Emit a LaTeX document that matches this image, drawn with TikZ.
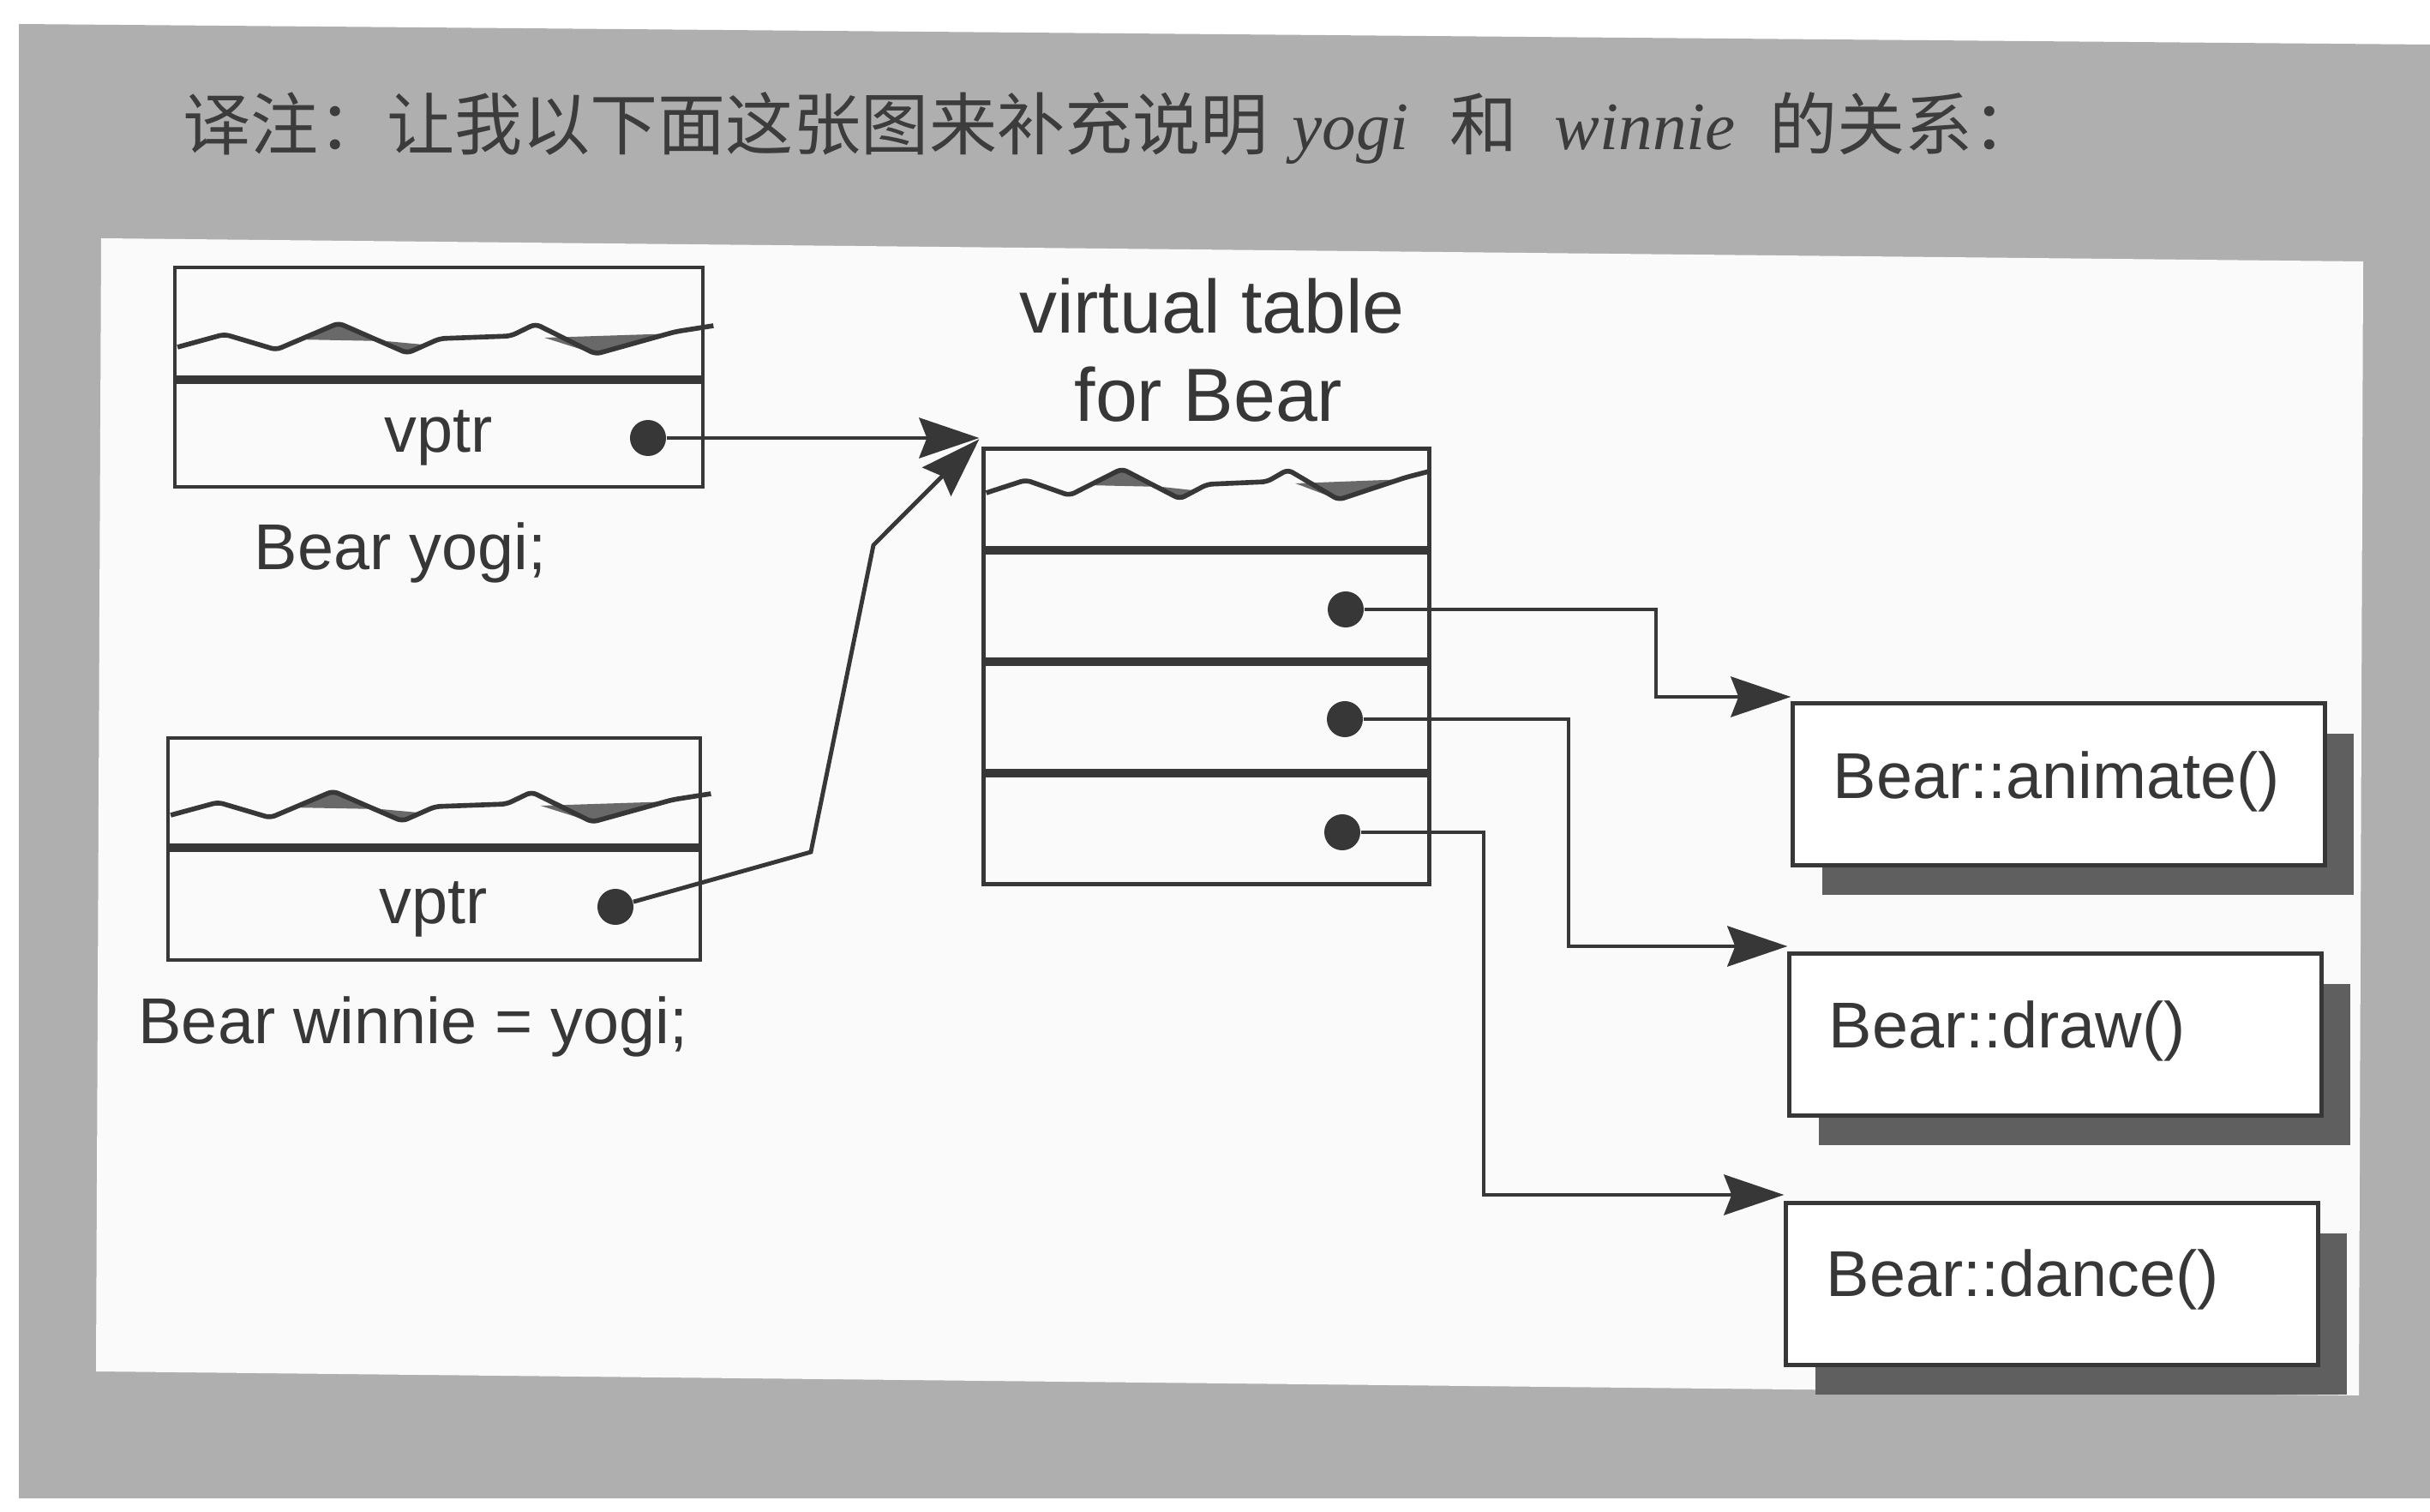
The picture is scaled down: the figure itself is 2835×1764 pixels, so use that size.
\documentclass[tikz,border=0pt]{standalone}
\usepackage{fontspec}
\setmainfont{Liberation Sans}
\newfontfamily\cjk{Noto Sans CJK SC}
\newfontfamily\tnr{Liberation Serif}
\usetikzlibrary{arrows.meta,calc,shadows}
\definecolor{bggray}{RGB}{175,175,175}
\definecolor{panel}{RGB}{250,250,250}
\definecolor{ink}{RGB}{55,55,55}
\definecolor{titlegray}{RGB}{60,60,60}
\definecolor{shade}{RGB}{95,95,95}
\definecolor{wavefill}{RGB}{105,105,105}
\newcommand\drawwave[4]{%
  \fill[wavefill] ({#1+0.23*#2},{#3-2}) -- ({#1+0.31*#2},{#3-21}) -- ({#1+0.40*#2},{#3}) -- cycle;
  \fill[wavefill] ({#1+0.40*#2},{#3}) -- ({#1+0.44*#2},{#3+14}) -- ({#1+0.47*#2},{#3+4}) -- cycle;
  \fill[wavefill] ({#1+0.70*#2},{#3-4}) -- ({#1+0.797*#2},{#3+15}) -- ({#1+0.95*#2},{#3-9}) -- cycle;
  \draw[waveline] ({#1+0.005*#2},{#3+7}) -- ({#1+0.094*#2},{#3-8}) -- ({#1+0.192*#2},{#3+10}) -- ({#1+0.31*#2},{#3-21}) -- ({#1+0.44*#2},{#3+14}) -- ({#1+0.502*#2},{#3-3}) -- ({#1+0.636*#2},{#3-6}) -- ({#1+0.683*#2},{#3-20}) -- ({#1+0.797*#2},{#3+15}) -- ({#1+0.948*#2},{#3-11}) -- ({#1+#4*#2},{#3-18});
}
\begin{document}
\begin{tikzpicture}[x=0.01cm,y=-0.01cm,
  objbox/.style={draw=ink, line width=1.4pt},
  divider/.style={draw=ink, line width=2.6pt},
  waveline/.style={draw=ink, line width=1.6pt, line join=round, rounded corners=0.06cm},
  ptr/.style={circle, fill=ink, inner sep=0pt, minimum size=0.42cm},
  conn/.style={draw=ink, line width=1.4pt, -{Stealth[length=0.7cm,width=0.47cm,inset=0.09cm]}},
  fbox/.style={draw=ink, fill=white, line width=1.4pt, minimum width=6.2cm, minimum height=1.88cm, inner sep=0pt,
     drop shadow={shadow xshift=0.34cm, shadow yshift=-0.35cm, fill=shade, opacity=1}},
  lbl/.style={text=ink, font=\fontsize{21.5pt}{26pt}\selectfont, inner sep=0pt},
  ttl/.style={text=ink, font=\fontsize{25pt}{30pt}\selectfont, inner sep=0pt},
 ]
\useasboundingbox (0,0) rectangle (2835,1764);
\fill[white] (0,0) rectangle (2835,1764);
\fill[bggray] (22,28) -- (2835,52) -- (2835,1748) -- (22,1748) -- cycle;
\fill[panel] (118,278) -- (2757,305) -- (2752,1628) -- (112,1600) -- cycle;

% title
\node[anchor=base west, text=titlegray, inner sep=0pt, font=\fontsize{22.5pt}{27pt}\selectfont] (title) at (213,175)
 {{\cjk 译注：让我以下面这张图来补充说明}\hspace{0.35em}{\tnr\itshape yogi}\hspace{0.6em}{\cjk 和}\hspace{0.55em}{\tnr\itshape winnie}\hspace{0.5em}{\cjk 的关系：}};

% yogi object
\draw[objbox] (204,312) rectangle (820,568);
\draw[divider] (204,443) -- (820,443);
\drawwave{204}{616}{398}{1.02}
\node[lbl, anchor=base] (yv) at (512,528) {vptr};
\node[ptr] (yd) at (756,511) {};
\node[lbl, anchor=base] (yn) at (467,665) {Bear yogi;};

% winnie object
\draw[objbox] (196,861) rectangle (817,1120);
\draw[divider] (196,989) -- (817,989);
\drawwave{196}{621}{944}{1.02}
\node[lbl, anchor=base] (wv) at (506,1077) {vptr};
\node[ptr] (wd) at (718,1058) {};
\node[lbl, anchor=base] (wn) at (482,1217) {Bear winnie = yogi;};

% virtual table
\node[ttl, anchor=base] (vtt1) at (1414,389) {virtual table};
\node[ttl, anchor=base] (vtt2) at (1410,492) {for Bear};
\node[draw=ink, line width=1.4pt, minimum width=5.19cm, minimum height=5.07cm, inner sep=0pt] (vt) at (1407.5,777.5) {};
\draw[divider] (1148,642) -- (1667,642);
\draw[divider] (1148,772) -- (1667,772);
\draw[divider] (1148,902) -- (1667,902);
\drawwave{1148}{519}{568}{1.0}
\node[ptr] (vd1) at (1570,711) {};
\node[ptr] (vd2) at (1569,839) {};
\node[ptr] (vd3) at (1566,971) {};

% arrows to vtable
\coordinate (vtin) at ($(vt.north west)+(-3,-9)$);
\draw[conn] (yd) -- (vtin |- yd);
\coordinate (wb1) at (946,994);
\coordinate (wb2) at (1019,636);
\draw[conn] (wd) -- (wb1) -- (wb2) -- (vtin);

% function boxes
\node[fbox] (fa) at (2402,915) {};
\node[fbox] (fd) at (2398,1207) {};
\node[fbox] (fc) at (2394,1498) {};
\node[lbl, anchor=base west] (fat) at (2138,932) {Bear::animate()};
\node[lbl, anchor=base west] (fdt) at (2133,1222) {Bear::draw()};
\node[lbl, anchor=base west] (fct) at (2130,1512) {Bear::dance()};

% connectors
\coordinate (k1) at (1932,813);
\coordinate (k2) at (1830,1104);
\coordinate (k3) at (1731,1394);
\draw[conn] (vd1) -| (k1) -- (fa.west |- k1);
\draw[conn] (vd2) -| (k2) -- (fd.west |- k2);
\draw[conn] (vd3) -| (k3) -- (fc.west |- k3);
\end{tikzpicture}
\end{document}
